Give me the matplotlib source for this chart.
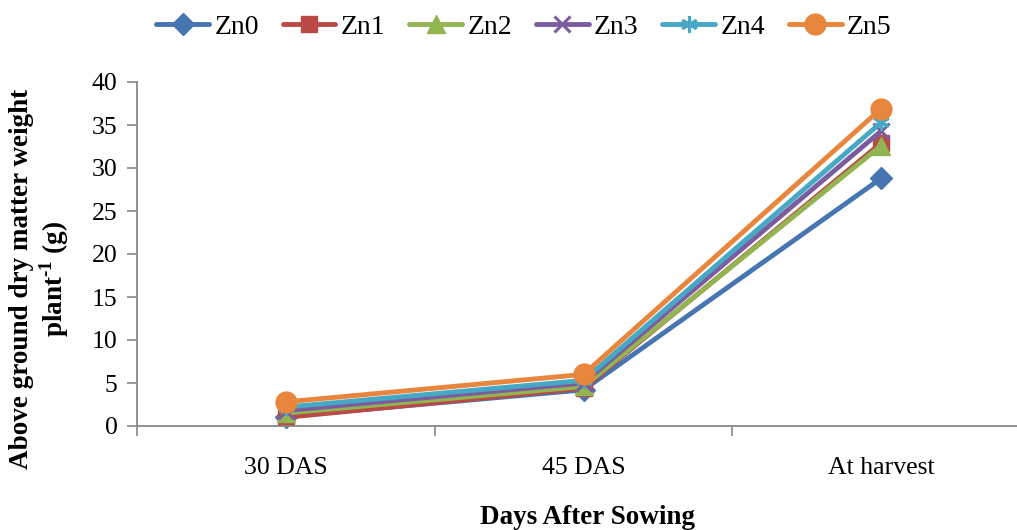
import matplotlib
matplotlib.use("Agg")
import matplotlib.pyplot as plt

plt.rcParams['font.family'] = ['Liberation Serif', 'DejaVu Serif']
plt.rcParams['mathtext.fontset'] = 'custom'
plt.rcParams['mathtext.rm'] = 'Liberation Serif'
plt.rcParams['mathtext.bf'] = 'Liberation Serif:bold'

categories = ["30 DAS", "45 DAS", "At harvest"]
series_names = ["Zn0", "Zn1", "Zn2", "Zn3", "Zn4", "Zn5"]
zn0 = [1.1, 4.2, 28.8]
zn1 = [1.0, 4.4, 32.9]
zn2 = [1.5, 4.6, 32.6]
zn3 = [1.8, 5.0, 34.3]
zn4 = [2.2, 5.3, 35.3]
zn5 = [2.8, 6.0, 36.9]
series_values = [zn0, zn1, zn2, zn3, zn4, zn5]
colors = ["#4675B2", "#BB4A46", "#92B451", "#7B5D9F", "#46A8C4", "#E8863D"]
markers = ["D", "s", "^", "x", (6, 2, 0), "o"]
msizes = [11, 11, 13, 11, 12, 15]
yticks = [0, 5, 10, 15, 20, 25, 30, 35, 40]

fig = plt.figure(figsize=(10.17, 5.30), dpi=100)
ax = fig.add_axes([137/1017, 104/530, (1030-137)/1017, 344/530])

x = list(range(len(categories)))
for name, vals, c, m, ms in zip(series_names, series_values, colors, markers, msizes):
    mew = 2.2 if m in ("x", (6, 2, 0)) else 1
    ax.plot(x, vals, color=c, lw=3.5, marker=m, markersize=ms,
            markerfacecolor=c, markeredgecolor=c, markeredgewidth=mew,
            label=name, solid_capstyle='round', clip_on=False)

ax.set_xlim(-0.5, 2.5)
ax.set_ylim(0, 40)
ax.set_yticks(yticks)
ax.set_yticklabels([str(v) for v in yticks], fontsize=18.5)
ax.set_xticks(x)
ax.set_xticklabels(categories, fontsize=18.5)
ax.set_xticks([-0.5, 0.5, 1.5, 2.5], minor=True)
ax.tick_params(axis='x', which='major', length=0, pad=22)
ax.tick_params(axis='x', which='minor', length=7, color='#888888', width=1.2, direction='out')
ax.tick_params(axis='y', length=7, color='#888888', width=1.2, pad=7)

for s in ['top', 'right']:
    ax.spines[s].set_visible(False)
for s in ['left', 'bottom']:
    ax.spines[s].set_color('#888888')
    ax.spines[s].set_linewidth(1.3)

fig.text(587/1017, 1 - 517/530, "Days After Sowing", ha='center', va='center',
         fontsize=19.5, fontweight='bold')
fig.text(40/1017, 1 - 279/530,
         "Above ground dry matter weight\nplant$^{\\mathbf{\u20101}}$ (g)",
         ha='center', va='center', rotation=90, fontsize=19.5,
         fontweight='bold', multialignment='center', linespacing=1.15)

leg = fig.legend(loc='center', bbox_to_anchor=(524/1017, 1 - 27/530), ncol=6,
                 frameon=False, fontsize=20, handlelength=1.9,
                 handletextpad=0.2, columnspacing=0.85)

fig.savefig("out.png", dpi=100)
